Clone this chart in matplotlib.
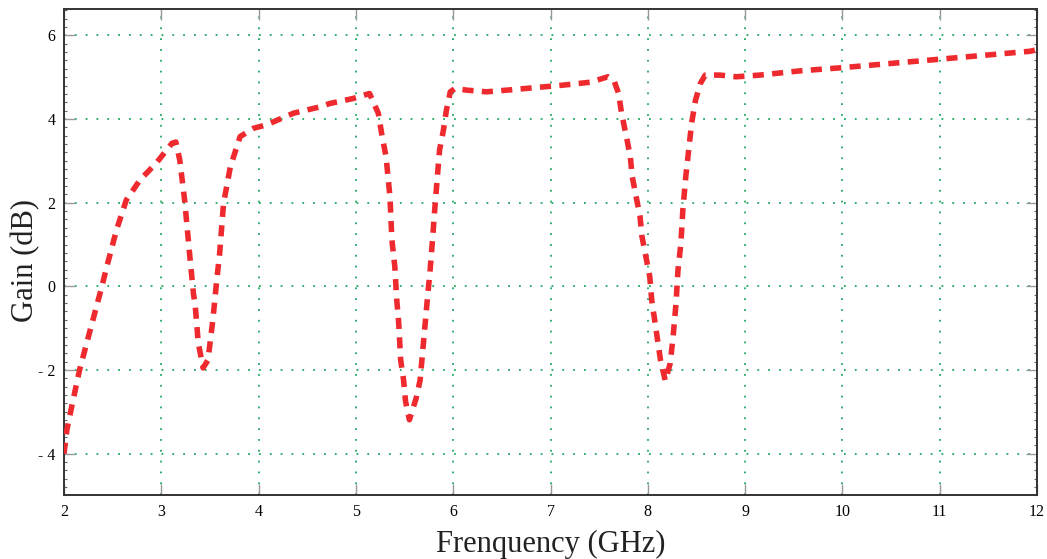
import numpy as np
import matplotlib
matplotlib.use("Agg")
import matplotlib.pyplot as plt
from matplotlib.ticker import MultipleLocator

# frequency (GHz) and gain (dB)
freq = [2.00, 2.03, 2.08, 2.16, 2.27, 2.39, 2.44, 2.54, 2.64, 2.78, 2.95, 3.11, 3.15,
        3.19, 3.24, 3.29, 3.33, 3.35, 3.38, 3.43, 3.48, 3.53, 3.57, 3.60, 3.64, 3.71,
        3.81, 3.95, 4.08, 4.36, 4.63, 4.73, 4.97, 5.14, 5.23, 5.27, 5.31, 5.33, 5.35,
        5.37, 5.40, 5.42, 5.44, 5.46, 5.49, 5.51, 5.55, 5.62, 5.66, 5.70, 5.74, 5.76,
        5.79, 5.81, 5.84, 5.86, 5.90, 5.93, 5.97, 6.02, 6.14, 6.34, 6.55, 7.13, 7.41,
        7.59, 7.65, 7.70, 7.73, 7.78, 7.82, 7.84, 7.88, 7.92, 7.94, 7.98, 8.02, 8.04,
        8.07, 8.10, 8.13, 8.18, 8.23, 8.26, 8.29, 8.31, 8.34, 8.36, 8.39, 8.42, 8.45,
        8.49, 8.54, 8.59, 8.74, 8.91, 9.15, 9.56, 10.01, 11.00, 11.93, 12.00]
gain = [-4.00, -3.43, -2.87, -2.00, -1.04, 0.00, 0.47, 1.35, 2.06, 2.54, 2.95, 3.42, 3.45,
        3.02, 2.06, 0.80, -0.16, -0.49, -1.35, -1.95, -1.76, -0.80, 0.15, 0.79, 1.99, 2.86,
        3.58, 3.78, 3.86, 4.14, 4.29, 4.37, 4.49, 4.61, 4.14, 3.58, 3.10, 2.62, 2.14,
        1.11, 0.47, -0.33, -0.88, -1.76, -2.24, -2.75, -3.19, -2.67, -2.24, -1.20, -0.16, 0.31,
        1.19, 1.83, 2.70, 3.26, 3.74, 4.21, 4.65, 4.73, 4.69, 4.65, 4.69, 4.81, 4.88,
        5.01, 4.93, 4.61, 4.14, 3.58, 3.10, 2.62, 2.14, 1.67, 1.19, 0.71, 0.23, -0.33,
        -0.80, -1.28, -1.76, -2.26, -1.84, -1.20, -0.40, 0.39, 1.03, 1.83, 2.62, 3.26, 3.90,
        4.45, 4.85, 5.05, 5.05, 5.01, 5.05, 5.15, 5.23, 5.43, 5.62, 5.66]

xticks = [2, 3, 4, 5, 6, 7, 8, 9, 10, 11, 12]
yticks = [-4, -2, 0, 2, 4, 6]

plt.rcParams['font.family'] = ['Liberation Serif', 'DejaVu Serif']

fig = plt.figure(figsize=(10.47, 5.59), dpi=100)
ax = fig.add_axes([0.0611, 0.1136, 0.9294, 0.8703])

ax.plot(freq, gain, color='#ee2a2e', lw=4.0, linestyle=(0, (2.0, 1.5)),
        solid_capstyle='butt', dash_capstyle='butt', zorder=3)

ax.set_xlim(2, 12)
ax.set_ylim(-5, 6.63)
ax.set_xticks(xticks)
ax.set_yticks(yticks)
ax.set_yticklabels([str(v).replace('-', '- ') if v < 0 else str(v) for v in yticks])
ax.yaxis.set_minor_locator(MultipleLocator(0.2))

# dotted green grid
ax.grid(True, which='major', color='#1fa862', linestyle=(0, (1.0, 5.0)), lw=1.3)

ax.tick_params(which='major', direction='in', length=8, width=1.0, color='#999999',
               top=True, right=True, labelsize=11.5, pad=6)
ax.tick_params(which='minor', direction='in', length=2, width=0.8, color='#666666',
               left=True, right=True, top=False, bottom=False)
for s in ax.spines.values():
    s.set_color('#333333')
    s.set_linewidth(1.4)

ax.set_xlabel('Frenquency (GHz)', fontsize=22, labelpad=7, color='#222222')
ax.set_ylabel('Gain (dB)', fontsize=22, color='#222222', va='center')
ax.yaxis.set_label_coords(-0.039, 0.484)

fig.savefig('out.png', dpi=100)
